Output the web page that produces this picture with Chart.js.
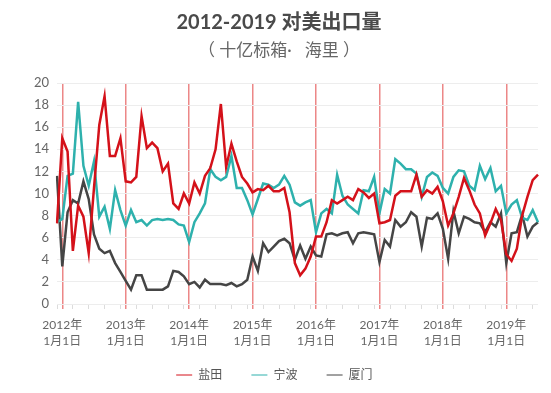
<!DOCTYPE html>
<html><head><meta charset="utf-8">
<script src="https://cdn.jsdelivr.net/npm/chart.js@4"></script>
<style>html,body{margin:0;padding:0;background:#fff}#wrap{width:551px;height:393px;position:relative}</style>
</head><body><div id="wrap"><canvas id="c"></canvas></div>
<script>
// monthly categories, Dec 2011 .. Jul 2019
const startYear = 2011, startMonth = 12, monthCount = 92;
const categories = [];
for (let k = 0; k < monthCount; k++) {
  const m = (startMonth - 1 + k) % 12 + 1;
  const y = startYear + Math.floor((startMonth - 1 + k) / 12);
  categories.push(y + '-' + String(m).padStart(2, '0'));
}
const yearLabels = {'2012':'2012年','2013':'2013年','2014':'2014年','2015':'2015年','2016':'2016年','2017':'2017年','2018':'2018年','2019':'2019年'};
const dayLabel = '1月1日';
const seriesNames = ['盐田', '宁波', '厦门'];

const yantian = [7.3,15.0,13.8,4.8,8.9,7.9,4.6,10.5,16.2,18.8,
13.4,13.4,15.0,11.1,11.0,11.5,17.0,14.1,14.6,14.1,
12.0,12.7,9.1,8.6,10.0,9.1,11.0,10.0,11.6,12.3,
14.0,18.1,12.4,14.5,12.9,11.5,10.9,10.1,10.4,10.3,
10.7,10.2,10.2,10.5,8.3,3.7,2.6,3.2,4.3,6.1,
6.1,7.4,9.4,9.1,9.4,9.7,9.4,10.4,10.1,9.6,
10.0,7.3,7.4,7.6,9.8,10.2,10.2,10.2,11.7,9.7,
10.3,10.0,10.6,9.3,7.1,8.2,9.7,11.4,10.3,9.0,
8.2,6.2,7.3,8.6,7.6,4.5,3.9,5.0,8.0,9.7,
11.2,11.7];
const ningbo = [7.4,7.7,11.6,11.8,18.3,12.5,10.7,12.9,7.9,8.8,
6.8,10.3,8.5,7.1,8.5,7.4,7.6,7.1,7.6,7.7,
7.6,7.7,7.6,7.2,7.1,5.6,7.4,8.2,9.1,12.2,
11.5,11.2,11.5,13.4,10.5,10.5,9.4,8.1,9.5,10.9,
10.8,10.5,10.8,11.6,10.8,9.2,8.9,9.2,9.4,6.5,
8.2,8.6,8.2,11.7,9.8,9.0,8.6,8.2,10.3,10.2,
11.5,8.2,10.4,10.0,13.1,12.7,12.2,12.2,11.8,9.7,
11.5,11.9,11.6,10.5,10.0,11.5,12.1,12.0,10.7,10.3,
12.5,11.3,12.3,10.2,10.7,8.2,9.0,9.4,7.8,7.6,
8.5,7.4];
const xiamen = [11.6,3.4,8.3,9.4,9.1,11.1,9.5,6.3,5.0,4.6,
4.8,3.7,2.9,2.1,1.3,2.6,2.6,1.3,1.3,1.3,
1.3,1.6,3.0,2.9,2.5,1.8,2.0,1.5,2.2,1.8,
1.8,1.8,1.7,1.9,1.6,1.8,2.2,4.3,3.0,5.5,
4.7,5.2,5.7,5.9,5.5,4.0,5.3,4.1,5.2,4.4,
4.3,6.3,6.4,6.2,6.4,6.5,5.5,6.4,6.5,6.4,
6.3,3.8,5.8,5.2,7.6,7.0,7.4,8.3,7.9,5.2,
7.8,7.7,8.2,6.8,4.1,8.4,6.4,7.9,7.7,7.4,
7.3,6.5,7.4,7.0,8.2,3.7,6.4,6.5,8.1,6.1,
7.0,7.4];

const FONT = 'Lato, "Noto Sans CJK SC", sans-serif';
Chart.defaults.font.family = FONT;
const RED = '#d4111a', TEAL = '#2eb1ad', DARK = '#454545', JANLINE = 'rgba(230,95,95,0.75)';
const isJan = i => categories[i] && categories[i].endsWith('-01');

new Chart(document.getElementById('c'), {
  type: 'line',
  data: {
    labels: categories,
    datasets: [
      {label: seriesNames[0], data: yantian, borderColor: RED, backgroundColor: RED},
      {label: seriesNames[1], data: ningbo, borderColor: TEAL, backgroundColor: TEAL},
      {label: seriesNames[2], data: xiamen, borderColor: DARK, backgroundColor: DARK}
    ]
  },
  options: {
    responsive: true, maintainAspectRatio: false, animation: false,
    elements: {line: {borderWidth: 2.5, tension: 0}, point: {radius: 0, hoverRadius: 0}},
    layout: {padding: {left: 20, right: 13, top: 0, bottom: 2}},
    plugins: {
      title: {display: true, text: '2012-2019 对美出口量', color: '#4a4a4a',
        font: {size: 20, weight: 'bold', family: FONT}, padding: {top: 11, bottom: 5}},
      subtitle: {display: true, text: '（ 十亿标箱·   海里 ）', color: '#666',
        font: {size: 17, family: FONT}, padding: {top: 0, bottom: 22.6}},
      legend: {position: 'bottom',
        labels: {usePointStyle: true, pointStyle: 'line', pointStyleWidth: 16, padding: 20,
          color: '#555', font: {size: 12, family: FONT},
          generateLabels: chart => Chart.defaults.plugins.legend.labels.generateLabels(chart)
            .map(l => Object.assign(l, {text: l.text + '   '}))}},
      tooltip: {enabled: false}
    },
    scales: {
      x: {
        afterFit: s => { s.height = 45; },
        border: {display: false},
        grid: {
          offset: false, drawTicks: true, tickLength: 5,
          color: c => isJan(c.index) ? JANLINE : 'rgba(0,0,0,0)',
          tickColor: c => isJan(c.index) ? JANLINE : (c.index % 3 === 0 ? '#dcdcdc' : 'rgba(0,0,0,0)'),
          lineWidth: c => isJan(c.index) ? 1.5 : 1
        },
        ticks: {
          autoSkip: false, maxRotation: 0, minRotation: 0, padding: 8,
          color: '#666', font: {size: 12, family: FONT, lineHeight: 1.35},
          callback: (v, i) => isJan(i) ? [yearLabels[categories[i].slice(0, 4)], dayLabel] : ''
        }
      },
      y: {
        min: 0, max: 20,
        afterFit: s => { s.width = 37; },
        border: {display: false},
        grid: {color: '#ededed', drawTicks: false, lineWidth: 1},
        ticks: {stepSize: 2, padding: 8, color: '#666', font: {size: 13, family: FONT}}
      }
    }
  }
});
</script>
</body></html>
